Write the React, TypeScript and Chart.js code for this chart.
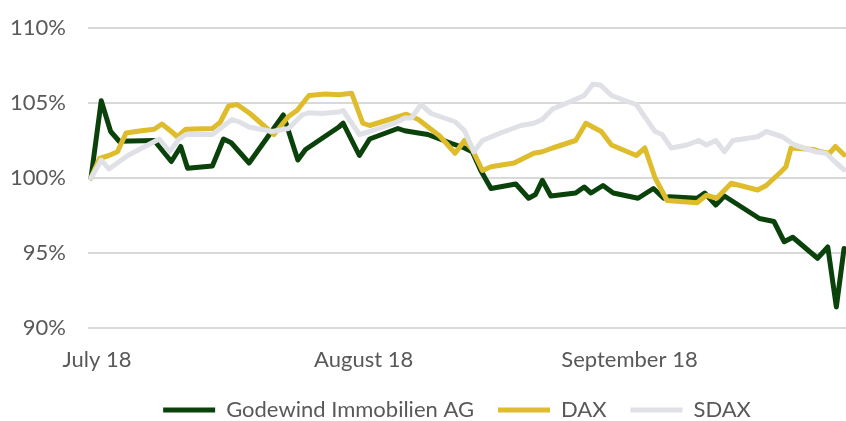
import React, { useEffect, useRef } from "react";
import { Chart, registerables } from "chart.js";

Chart.register(...registerables);

// x values: calendar-day offsets from the start date (30 June 2018)
const xTickDays = [0.7, 31.9, 63.0];
const xTickLabels = ["July 18", "August 18", "September 18"];
const yTickValues = [90, 95, 100, 105, 110];

const seriesNames = ["Godewind Immobilien AG", "DAX", "SDAX"];

const godewindDays = [0, 1.2, 2.3, 3.3, 7.4, 9.4, 10.5, 11.3, 14.2, 15.5, 16.4, 18.5, 22.5, 24.2, 25.1, 29.0, 29.5, 31.4, 32.6, 35.9, 36.7, 38.3, 39.4, 42.2, 43.7, 44.6, 45.6, 46.8, 49.7, 51.2, 52.0, 52.8, 53.8, 56.7, 57.7, 58.5, 59.9, 61.1, 64.0, 65.8, 67.0, 67.7, 70.9, 71.8, 73.1, 74.1, 78.2, 79.9, 81.1, 82.1, 85.0, 86.2, 87.2, 88.1];
const godewindValues = [100, 105.15, 103.1, 102.45, 102.5, 101.1, 102.1, 100.65, 100.8, 102.6, 102.35, 101.0, 104.2, 101.2, 101.9, 103.4, 103.65, 101.5, 102.6, 103.3, 103.15, 103.0, 102.9, 102.3, 102.0, 101.75, 100.5, 99.3, 99.6, 98.65, 98.9, 99.85, 98.8, 99.0, 99.4, 99.0, 99.5, 99.0, 98.65, 99.3, 98.65, 98.75, 98.65, 99.0, 98.2, 98.8, 97.3, 97.1, 95.75, 96.05, 94.65, 95.4, 91.4, 95.3];

const daxDays = [0, 1.0, 2.1, 3.1, 4.1, 5.9, 7.4, 8.3, 9.4, 10.1, 11.1, 14.2, 15.1, 16.1, 17.1, 18.6, 21.4, 23.1, 24.1, 25.5, 27.4, 29.0, 30.5, 31.8, 32.6, 36.9, 38.3, 40.8, 42.6, 43.7, 44.6, 45.8, 46.8, 49.5, 51.8, 52.8, 54.0, 56.7, 57.9, 58.7, 59.7, 60.9, 63.8, 64.8, 66.0, 67.4, 70.9, 72.0, 73.2, 74.9, 78.0, 79.0, 80.7, 81.3, 81.9, 84.6, 85.4, 86.4, 87.1, 88.1];
const daxValues = [100, 101.3, 101.5, 101.75, 103.0, 103.15, 103.25, 103.6, 103.1, 102.75, 103.25, 103.3, 103.7, 104.8, 104.9, 104.3, 102.9, 104.1, 104.5, 105.5, 105.6, 105.55, 105.65, 103.65, 103.5, 104.25, 103.9, 102.8, 101.65, 102.5, 101.9, 100.5, 100.75, 101.0, 101.65, 101.75, 102.0, 102.5, 103.65, 103.4, 103.1, 102.2, 101.5, 102.0, 100.0, 98.5, 98.35, 98.85, 98.65, 99.65, 99.2, 99.5, 100.4, 100.75, 102.0, 101.9, 101.75, 101.65, 102.1, 101.55];

const sdaxDays = [0, 1.2, 2.1, 4.3, 8.0, 9.2, 10.3, 11.1, 14.2, 16.5, 17.3, 18.5, 21.2, 23.1, 24.7, 25.5, 27.0, 29.0, 29.5, 31.4, 32.6, 35.5, 36.7, 37.5, 38.6, 39.8, 42.6, 43.7, 44.8, 45.8, 47.9, 50.3, 51.8, 52.8, 54.0, 56.5, 57.7, 58.7, 59.6, 60.9, 62.3, 63.8, 65.0, 66.0, 66.8, 67.9, 69.7, 71.1, 72.0, 73.1, 74.1, 75.1, 78.0, 79.0, 80.9, 82.3, 84.8, 86.0, 87.0, 88.1];
const sdaxValues = [100, 101.2, 100.6, 101.5, 102.6, 101.75, 102.6, 102.9, 102.9, 103.9, 103.75, 103.4, 103.1, 103.3, 104.2, 104.35, 104.3, 104.4, 104.5, 102.9, 103.1, 103.65, 104.0, 104.0, 104.9, 104.3, 103.75, 103.15, 101.75, 102.5, 103.0, 103.5, 103.65, 103.9, 104.6, 105.2, 105.5, 106.25, 106.2, 105.5, 105.2, 104.9, 103.9, 103.1, 102.9, 102.0, 102.2, 102.5, 102.2, 102.5, 101.75, 102.5, 102.75, 103.1, 102.75, 102.2, 101.75, 101.65, 101.1, 100.55];

const GREEN = "#0b420b";
const GOLD = "#dfbc2c";
const LIGHT = "#dfe1e6";
const GRID = "#d9d9d9";
const TEXT = "#595959";
const FONT = "Lato, 'Open Sans', sans-serif";

const legendShift = {
  id: "legendShift",
  afterLayout(chart: any) {
    const lg = chart.legend;
    if (lg) {
      lg.left -= 10;
      lg.right -= 10;
    }
  },
};

export default function App() {
  const ref = useRef<HTMLCanvasElement>(null);

  useEffect(() => {
    if (!ref.current) return;
    const toPts = (d: number[], v: number[]) => d.map((x, i) => ({ x, y: v[i] }));
    const colors = [GREEN, GOLD, LIGHT];
    const dataSets = [
      toPts(godewindDays, godewindValues),
      toPts(daxDays, daxValues),
      toPts(sdaxDays, sdaxValues),
    ];
    const chart = new Chart(ref.current, {
      type: "line",
      data: {
        datasets: dataSets.map((data, i) => ({
          label: seriesNames[i],
          data,
          borderColor: colors[i],
          backgroundColor: colors[i],
          borderWidth: 5,
          pointRadius: 0,
          pointHoverRadius: 0,
          tension: 0,
          fill: false,
          borderJoinStyle: "round" as const,
          borderCapStyle: "round" as const,
          order: 3 - i,
        })),
      },
      plugins: [legendShift],
      options: {
        responsive: false,
        animation: false,
        layout: { padding: { left: 0, right: 0, top: 28, bottom: -10 } },
        scales: {
          x: {
            type: "linear",
            min: -0.35,
            max: 88.33,
            grid: { display: false, drawTicks: false },
            border: { display: false },
            afterBuildTicks: (s: any) => {
              s.ticks = xTickDays.map((v) => ({ value: v }));
            },
            afterFit: (s: any) => {
              s.height = 47;
            },
            ticks: {
              autoSkip: false,
              maxRotation: 0,
              padding: 19,
              color: TEXT,
              font: { family: FONT, size: 22 },
              callback: (_v: any, i: number) => xTickLabels[i],
            },
          },
          y: {
            min: 90,
            max: 110,
            afterBuildTicks: (s: any) => {
              s.ticks = yTickValues.map((v) => ({ value: v }));
            },
            afterFit: (s: any) => {
              s.width = 88;
            },
            grid: {
              color: GRID,
              lineWidth: 2,
              drawTicks: true,
              tickLength: 22,
              tickColor: "rgba(0,0,0,0)",
            },
            border: { display: false },
            ticks: {
              padding: 0,
              color: TEXT,
              font: { family: FONT, size: 22 },
              callback: (v: any) => v + "%",
            },
          },
        },
        plugins: {
          tooltip: { enabled: false },
          legend: {
            position: "bottom",
            fullSize: false,
            labels: {
              boxWidth: 52,
              boxHeight: 5,
              padding: 24,
              color: TEXT,
              font: { family: FONT, size: 22 },
              generateLabels: (c: any) =>
                c.data.datasets.map((ds: any, i: number) => ({
                  text: ds.label,
                  fillStyle: ds.borderColor,
                  strokeStyle: ds.borderColor,
                  lineWidth: 0,
                  hidden: false,
                  datasetIndex: i,
                  fontColor: TEXT,
                })),
            },
          },
        },
      },
    });
    return () => chart.destroy();
  }, []);

  return (
    <div style={{ position: "absolute", left: 0, top: 0, width: 846, height: 421, background: "#fff" }}>
      <canvas ref={ref} width={846} height={421} />
    </div>
  );
}
